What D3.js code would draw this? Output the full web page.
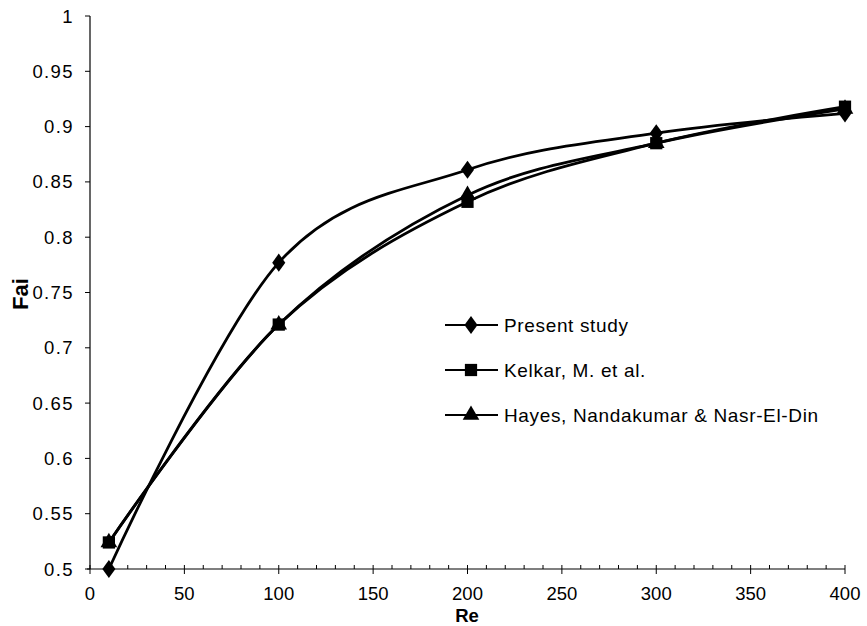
<!DOCTYPE html>
<html>
<head>
<meta charset="utf-8">
<script src="https://cdn.jsdelivr.net/npm/d3@7"></script>
<style>
  html, body { margin: 0; padding: 0; background: #fff; }
  svg { display: block; }
  text { font-family: Arial, "Liberation Sans", sans-serif; fill: #000; }
</style>
</head>
<body>
<svg id="chart" width="867" height="626"></svg>
<script>
// Reynolds numbers at which Fai was evaluated
const reValues = [10, 100, 200, 300, 400];

// Fai for each source
const presentStudy = [0.500, 0.777, 0.861, 0.894, 0.912];
const kelkar       = [0.524, 0.721, 0.832, 0.885, 0.918];
const hayes        = [0.524, 0.721, 0.838, 0.885, 0.916];

const seriesNames = ["Present study", "Kelkar, M. et al.", "Hayes, Nandakumar & Nasr-El-Din"];
const seriesSymbols = ["diamond", "square", "triangle"];

const xTicks = [0, 50, 100, 150, 200, 250, 300, 350, 400];
const yTicks = [0.5, 0.55, 0.6, 0.65, 0.7, 0.75, 0.8, 0.85, 0.9, 0.95, 1];
const xTickLabels = ["0", "50", "100", "150", "200", "250", "300", "350", "400"];
const yTickLabels = ["0.5", "0.55", "0.6", "0.65", "0.7", "0.75", "0.8", "0.85", "0.9", "0.95", "1"];

const svg = d3.select("#chart");

const x = d3.scaleLinear().domain([0, 400]).range([90, 845]);
const y = d3.scaleLinear().domain([0.5, 1]).range([569, 16]);

// ---- axes ----
const axisG = svg.append("g").attr("stroke", "#000").attr("fill", "none");

// y axis line and outward ticks
axisG.append("line")
  .attr("x1", x(0)).attr("x2", x(0))
  .attr("y1", y(1)).attr("y2", y(0.5))
  .attr("stroke-width", 1.2);
axisG.selectAll(".ytick").data(yTicks).enter().append("line")
  .attr("x1", x(0) - 5).attr("x2", x(0))
  .attr("y1", d => y(d)).attr("y2", d => y(d))
  .attr("stroke-width", 1);

// x axis line, major ticks crossing the line, minor ticks every 10
axisG.append("line")
  .attr("x1", x(0) - 3).attr("x2", x(400))
  .attr("y1", y(0.5)).attr("y2", y(0.5))
  .attr("stroke-width", 1.2);
axisG.selectAll(".xtick").data(xTicks).enter().append("line")
  .attr("x1", d => x(d)).attr("x2", d => x(d))
  .attr("y1", y(0.5) - 4).attr("y2", y(0.5) + 5)
  .attr("stroke-width", 1);
const minorTicks = d3.range(10, 400, 10).filter(v => v % 50 !== 0);
axisG.selectAll(".xminor").data(minorTicks).enter().append("line")
  .attr("x1", d => x(d)).attr("x2", d => x(d))
  .attr("y1", y(0.5) - 4).attr("y2", y(0.5))
  .attr("stroke-width", 1);

// tick labels
svg.append("g").selectAll("text").data(yTicks).enter().append("text")
  .attr("x", 74).attr("y", d => y(d) + 6.5)
  .attr("text-anchor", "end")
  .attr("font-size", 18.5)
  .attr("letter-spacing", 1.4)
  .text((d, i) => yTickLabels[i]);

svg.append("g").selectAll("text").data(xTicks).enter().append("text")
  .attr("x", d => x(d)).attr("y", 600)
  .attr("text-anchor", "middle")
  .attr("font-size", 18.5)
  .text((d, i) => xTickLabels[i]);

// axis titles
svg.append("text")
  .attr("x", 467).attr("y", 621.5)
  .attr("text-anchor", "middle")
  .attr("font-size", 18.5).attr("font-weight", "bold")
  .text("Re");

svg.append("text")
  .attr("transform", "translate(28,294) rotate(-90)")
  .attr("text-anchor", "middle")
  .attr("font-size", 22).attr("font-weight", "bold")
  .text("Fai");

// ---- series ----
const symbolTypes = {
  diamond: d3.symbolDiamond,
  square: d3.symbolSquare,
  triangle: d3.symbolTriangle
};
const symbolSizes = { diamond: 95, square: 150, triangle: 120 };

const series = [presentStudy, kelkar, hayes].map((vals, i) => ({
  name: seriesNames[i],
  symbol: seriesSymbols[i],
  points: reValues.map((re, j) => ({ re, v: vals[j] }))
}));

// smoothed connecting lines
const line = d3.line()
  .x(d => x(d.re))
  .y(d => y(d.v))
  .curve(d3.curveCardinal.tension(0));

const plot = svg.append("g");
series.forEach(s => {
  plot.append("path")
    .datum(s.points)
    .attr("d", line)
    .attr("fill", "none")
    .attr("stroke", "#000")
    .attr("stroke-width", 2.8);
});

function symbolPath(sym) {
  return d3.symbol().type(symbolTypes[sym]).size(symbolSizes[sym])();
}

series.forEach(s => {
  plot.append("g").selectAll("path").data(s.points).enter().append("path")
    .attr("d", symbolPath(s.symbol))
    .attr("transform", d => `translate(${x(d.re)},${y(d.v)})` + (s.symbol === "diamond" ? " scale(1.25,1)" : ""))
    .attr("fill", "#000");
});

// ---- legend ----
const legend = svg.append("g");
const legendRows = [325, 370, 415];
series.forEach((s, i) => {
  const g = legend.append("g").attr("transform", `translate(0,${legendRows[i]})`);
  g.append("line")
    .attr("x1", 445).attr("x2", 498)
    .attr("y1", 0).attr("y2", 0)
    .attr("stroke", "#000").attr("stroke-width", 2.2);
  g.append("path")
    .attr("d", symbolPath(s.symbol))
    .attr("transform", "translate(471,0)" + (s.symbol === "diamond" ? " scale(1.25,1)" : ""))
    .attr("fill", "#000");
  g.append("text")
    .attr("x", 504).attr("y", 7)
    .attr("font-size", 19)
    .attr("letter-spacing", 0.65)
    .text(s.name);
});
</script>
</body>
</html>
